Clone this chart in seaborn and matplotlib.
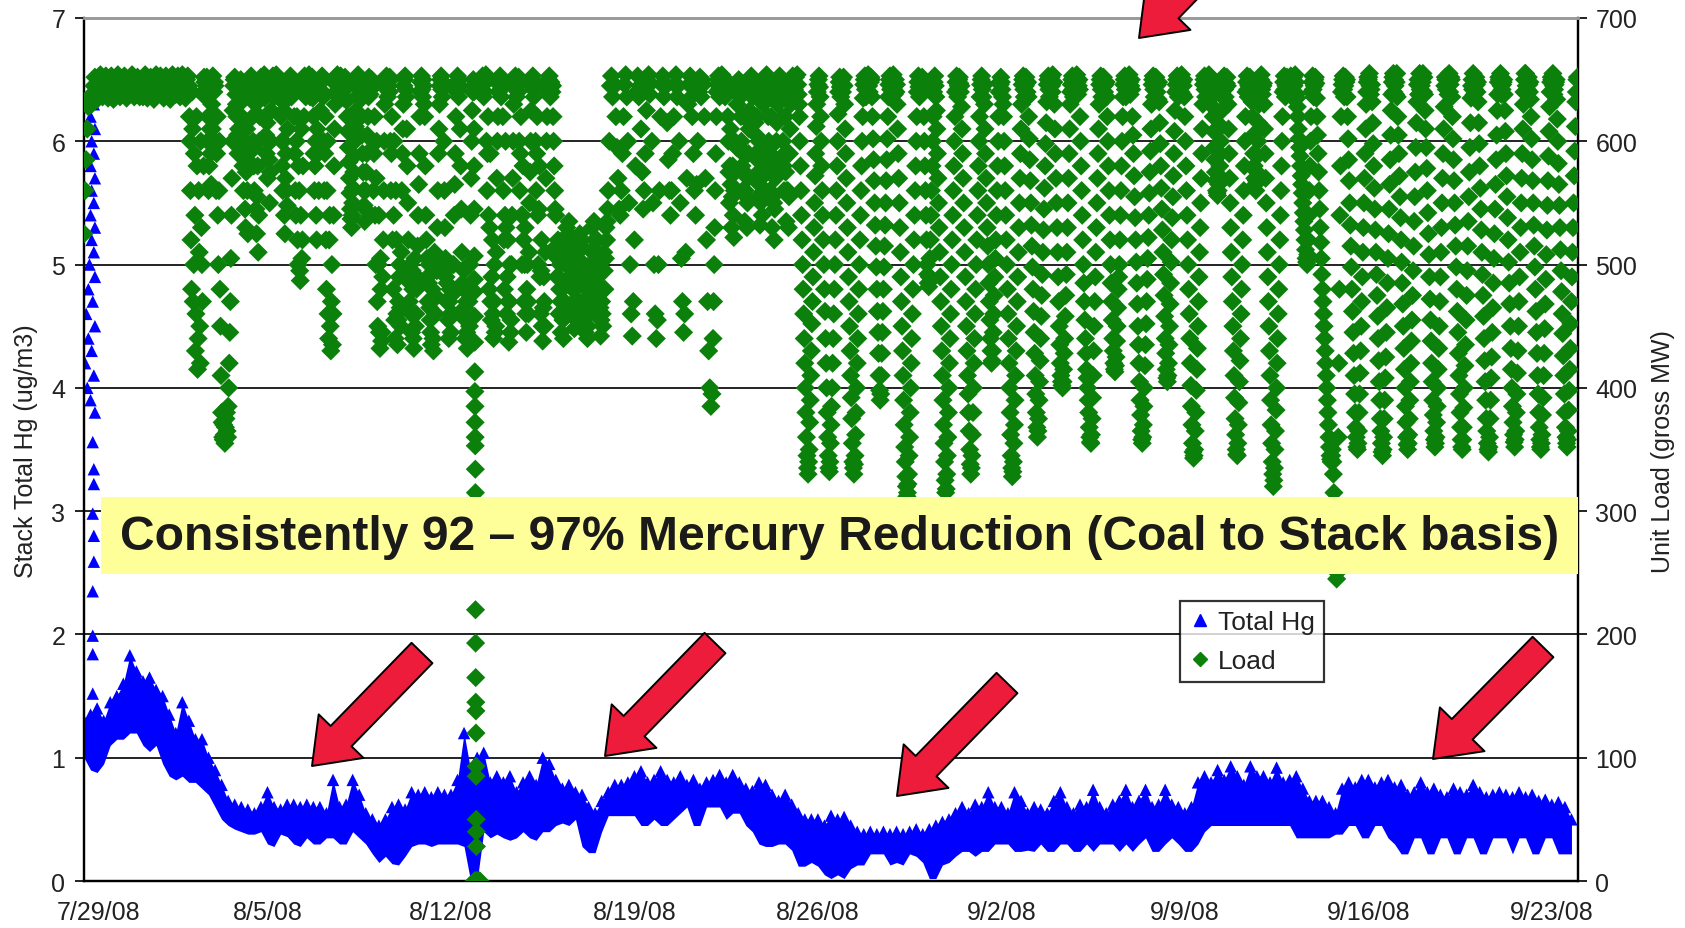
import numpy as np
import pandas as pd
import matplotlib
matplotlib.use("Agg")
import matplotlib.pyplot as plt
import matplotlib.dates as mdates
from matplotlib.lines import Line2D
from matplotlib.patches import FancyArrowPatch, Rectangle
from matplotlib.transforms import ScaledTranslation
import seaborn as sns

# --- data ----------------------------------------------------------------
start = pd.Timestamp("2008-07-29")
n_days = 57
tick_dates = pd.date_range(start, periods=9, freq="7D")

# Total Hg envelope, 6-hourly (4 per day): upper and lower edge of the band
hg_high = [
    1.30, 1.35, 1.40, 1.30,  1.45, 1.50, 1.60, 1.83,
    1.70, 1.62, 1.65, 1.55,  1.50, 1.35, 1.20, 1.45,
    1.30, 1.15, 1.15, 1.00,  0.90, 0.78, 0.65, 0.62,
    0.60, 0.58, 0.55, 0.60,  0.72, 0.60, 0.58, 0.62,
    0.62, 0.60, 0.62, 0.60,  0.60, 0.55, 0.82, 0.60,
    0.62, 0.82, 0.70, 0.55,  0.50, 0.45, 0.50, 0.60,
    0.62, 0.58, 0.72, 0.70,  0.72, 0.68, 0.72, 0.70,
    0.70, 0.82, 1.20, 0.90,  1.00, 1.04, 0.80, 0.85,
    0.80, 0.85, 0.72, 0.80,  0.85, 0.78, 1.00, 0.95,
    0.82, 0.75, 0.78, 0.72,  0.70, 0.60, 0.55, 0.65,
    0.72, 0.78, 0.78, 0.80,  0.85, 0.89, 0.80, 0.82,
    0.89, 0.82, 0.80, 0.85,  0.78, 0.82, 0.75, 0.80,
    0.82, 0.86, 0.80, 0.86,  0.80, 0.75, 0.73, 0.80,
    0.78, 0.70, 0.65, 0.70,  0.62, 0.55, 0.50, 0.50,
    0.50, 0.45, 0.53, 0.50,  0.52, 0.45, 0.40, 0.38,
    0.40, 0.38, 0.40, 0.38,  0.40, 0.38, 0.40, 0.42,
    0.38, 0.42, 0.45, 0.48,  0.50, 0.55, 0.60, 0.55,
    0.62, 0.60, 0.72, 0.60,  0.60, 0.55, 0.72, 0.65,
    0.55, 0.60, 0.58, 0.55,  0.65, 0.72, 0.60, 0.55,
    0.62, 0.60, 0.74, 0.60,  0.55, 0.62, 0.65, 0.74,
    0.60, 0.65, 0.74, 0.60,  0.62, 0.74, 0.62, 0.60,
    0.55, 0.60, 0.80, 0.85,  0.80, 0.90, 0.82, 0.93,
    0.85, 0.78, 0.93, 0.85,  0.85, 0.80, 0.92, 0.80,
    0.82, 0.85, 0.75, 0.65,  0.65, 0.65, 0.60, 0.55,
    0.75, 0.80, 0.76, 0.82,  0.82, 0.76, 0.80, 0.82,
    0.76, 0.78, 0.70, 0.72,  0.80, 0.72, 0.75, 0.70,
    0.68, 0.75, 0.72, 0.70,  0.78, 0.72, 0.68, 0.70,
    0.72, 0.70, 0.68, 0.72,  0.68, 0.70, 0.65, 0.66,
    0.62, 0.64, 0.60, 0.50,
]
hg_low = [
    1.00, 0.90, 0.88, 0.95,  1.10, 1.15, 1.15, 1.20,
    1.20, 1.10, 1.05, 1.10,  0.95, 0.85, 0.82, 0.85,
    0.80, 0.80, 0.75, 0.70,  0.60, 0.50, 0.45, 0.42,
    0.40, 0.38, 0.38, 0.40,  0.30, 0.28, 0.38, 0.36,
    0.30, 0.28, 0.35, 0.30,  0.30, 0.35, 0.35, 0.30,
    0.30, 0.40, 0.35, 0.30,  0.22, 0.15, 0.20, 0.14,
    0.13, 0.20, 0.28, 0.30,  0.30, 0.28, 0.30, 0.30,
    0.30, 0.30, 0.28, 0.00,  0.00, 0.40, 0.35, 0.38,
    0.35, 0.33, 0.35, 0.40,  0.35, 0.33, 0.40, 0.40,
    0.45, 0.47, 0.45, 0.50,  0.28, 0.23, 0.23, 0.40,
    0.53, 0.53, 0.53, 0.53,  0.53, 0.45, 0.45, 0.50,
    0.45, 0.45, 0.50, 0.55,  0.60, 0.45, 0.45, 0.60,
    0.60, 0.60, 0.50, 0.55,  0.55, 0.45, 0.40, 0.30,
    0.28, 0.28, 0.30, 0.30,  0.25, 0.12, 0.12, 0.15,
    0.12, 0.05, 0.02, 0.05,  0.02, 0.10, 0.13, 0.13,
    0.22, 0.22, 0.22, 0.13,  0.15, 0.13, 0.22, 0.20,
    0.15, 0.02, 0.02, 0.13,  0.15, 0.20, 0.24, 0.24,
    0.20, 0.24, 0.24, 0.30,  0.30, 0.30, 0.24, 0.24,
    0.25, 0.24, 0.30, 0.24,  0.24, 0.30, 0.30, 0.24,
    0.24, 0.30, 0.24, 0.30,  0.30, 0.30, 0.24, 0.30,
    0.24, 0.30, 0.35, 0.24,  0.24, 0.30, 0.35, 0.30,
    0.24, 0.24, 0.30, 0.40,  0.45, 0.45, 0.45, 0.45,
    0.45, 0.45, 0.45, 0.45,  0.45, 0.45, 0.45, 0.45,
    0.45, 0.35, 0.35, 0.35,  0.35, 0.35, 0.35, 0.38,
    0.38, 0.45, 0.45, 0.35,  0.35, 0.45, 0.45, 0.35,
    0.30, 0.22, 0.22, 0.35,  0.35, 0.22, 0.22, 0.35,
    0.35, 0.22, 0.22, 0.35,  0.35, 0.22, 0.22, 0.35,
    0.35, 0.35, 0.22, 0.35,  0.35, 0.22, 0.22, 0.35,
    0.35, 0.22, 0.22, 0.22,
]

# start-up spike on 7/29 (hours after midnight, ug/m3)
hg_start_hour = [9, 6, 10, 7, 9, 6, 10, 7, 9, 6, 10, 7, 9, 5, 10, 4, 8, 2,
                 10, 4, 7, 1, 9, 3, 6, 10, 8, 9, 9, 8, 9, 9, 8, 8, 8, 8]
hg_start_val = [6.3, 6.2, 6.1, 6.0, 5.9, 5.8, 5.7, 5.6, 5.5, 5.4, 5.3, 5.2,
                5.1, 5.0, 4.9, 4.8, 4.7, 4.6, 4.5, 4.4, 4.3, 4.2, 4.1, 4.0,
                3.9, 3.8, 3.56, 3.34, 3.22, 2.98, 2.8, 2.59, 2.35, 1.99,
                1.84, 1.52]

# Unit load, hourly on the hour (MW), one row per day
load_wk1 = [  # 7/29 - 8/4
    [525, 560, 585, 610, 628, 636, 632, 630, 638, 645, 652, 646, 634, 640, 647, 654, 646, 636, 638, 645, 653, 648, 635, 641],
    [646, 653, 650, 634, 645, 639, 646, 654, 650, 636, 647, 642, 646, 653, 650, 635, 649, 643, 638, 646, 654, 650, 636, 646],
    [645, 652, 649, 636, 648, 640, 636, 642, 654, 648, 635, 649, 647, 652, 639, 645, 634, 649, 654, 648, 640, 641, 653, 648],
    [647, 635, 650, 653, 646, 640, 647, 634, 651, 654, 648, 643, 638, 644, 653, 648, 636, 649, 654, 642, 646, 635, 650, 653],
    [645, 600, 520, 640, 470, 590, 430, 620, 415, 560, 450, 600, 500, 640, 652, 636, 645, 600, 560, 645, 590, 630, 653, 640],
    [645, 560, 620, 500, 600, 450, 380, 360, 370, 355, 375, 365, 385, 420, 470, 540, 600, 645, 652, 638, 620, 590, 630, 645],
    [645, 600, 560, 640, 530, 610, 525, 645, 636, 653, 645, 600, 560, 630, 525, 580, 540, 620, 652, 636, 645, 654, 620, 590],
]
load_wk2 = [  # 8/5 - 8/11
    [570, 640, 550, 600, 645, 653, 636, 645, 654, 640, 648, 635, 645, 600, 560, 625, 525, 590, 548, 635, 646, 653, 636, 645],
    [645, 590, 540, 620, 500, 560, 487, 610, 520, 640, 653, 636, 650, 640, 654, 636, 648, 652, 620, 560, 600, 520, 640, 560],
    [600, 640, 653, 636, 560, 620, 480, 600, 440, 540, 430, 500, 460, 580, 630, 646, 654, 636, 647, 653, 640, 648, 635, 652],
    [646, 620, 595, 570, 545, 530, 550, 575, 600, 625, 646, 654, 636, 647, 620, 590, 560, 535, 560, 590, 620, 652, 638, 646],
    [645, 560, 620, 500, 600, 450, 540, 432, 480, 445, 520, 600, 645, 653, 636, 645, 652, 560, 620, 480, 600, 440, 520, 435],
    [470, 500, 450, 560, 610, 645, 653, 636, 580, 520, 470, 500, 445, 480, 432, 505, 460, 490, 540, 590, 640, 653, 636, 645],
    [620, 540, 505, 470, 500, 455, 435, 480, 430, 510, 460, 495, 560, 610, 645, 653, 636, 645, 560, 505, 470, 500, 440, 480],
]
load_wk3 = [  # 8/12 - 8/18
    [445, 500, 460, 540, 590, 640, 653, 636, 645, 580, 510, 460, 495, 440, 470, 432, 500, 450, 540, 600, 640, 645, 0, 0],
    [0, 0, 0, 640, 646, 653, 636, 647, 654, 560, 620, 480, 590, 455, 520, 440, 500, 450, 570, 620, 646, 653, 636, 645],
    [560, 480, 600, 460, 520, 437, 500, 455, 540, 600, 645, 653, 636, 645, 652, 560, 620, 500, 580, 470, 530, 445, 500, 460],
    [550, 600, 645, 653, 636, 645, 560, 620, 500, 580, 460, 520, 438, 490, 450, 570, 620, 646, 653, 636, 646, 645, 600, 560],
    [540, 490, 520, 460, 500, 445, 480, 440, 470, 500, 530, 510, 535, 490, 520, 460, 500, 448, 480, 455, 510, 470, 525, 500],
    [520, 470, 500, 445, 480, 440, 460, 500, 470, 530, 490, 535, 510, 480, 520, 460, 495, 442, 470, 450, 510, 480, 530, 535],
    [560, 600, 645, 653, 636, 647, 645, 620, 595, 570, 545, 540, 560, 590, 620, 646, 654, 636, 600, 550, 500, 460, 442, 470],
]
load_wk4 = [  # 8/19 - 8/25
    [520, 580, 640, 653, 636, 645, 610, 575, 545, 560, 590, 625, 646, 654, 638, 647, 600, 550, 500, 460, 440, 455, 500, 560],
    [620, 646, 653, 636, 647, 645, 615, 585, 560, 540, 560, 590, 620, 646, 654, 636, 645, 600, 550, 505, 470, 445, 460, 510],
    [570, 630, 646, 653, 636, 620, 590, 560, 540, 565, 600, 640, 652, 636, 650, 646, 620, 570, 520, 470, 430, 400, 385, 395],
    [440, 500, 560, 620, 646, 653, 636, 647, 654, 640, 648, 636, 647, 645, 600, 550, 610, 530, 580, 522, 600, 560, 630, 646],
    [648, 636, 600, 560, 620, 535, 590, 530, 570, 610, 640, 653, 636, 646, 645, 590, 620, 555, 600, 532, 570, 540, 630, 646],
    [648, 654, 636, 600, 560, 620, 530, 580, 520, 570, 600, 630, 646, 653, 636, 645, 600, 560, 620, 535, 590, 530, 590, 630],
    [646, 653, 636, 647, 645, 654, 638, 620, 580, 540, 500, 460, 420, 380, 345, 330, 350, 390, 430, 470, 510, 550, 590, 630],
]
load_wk5 = [  # 8/26 - 9/1
    [646, 653, 636, 600, 560, 520, 480, 440, 400, 360, 335, 340, 370, 400, 440, 480, 520, 560, 600, 640, 652, 636, 650, 646],
    [645, 610, 570, 530, 490, 450, 410, 375, 340, 330, 345, 380, 420, 460, 500, 540, 580, 620, 646, 653, 636, 647, 654, 640],
    [648, 650, 620, 585, 550, 515, 480, 445, 410, 390, 410, 445, 480, 515, 550, 585, 620, 646, 653, 636, 645, 654, 638, 650],
    [646, 610, 570, 530, 490, 450, 410, 370, 340, 320, 315, 330, 360, 400, 440, 480, 520, 560, 600, 640, 653, 636, 650, 647],
    [645, 620, 580, 540, 500, 485, 490, 520, 560, 600, 640, 653, 636, 610, 570, 530, 490, 450, 410, 370, 340, 315, 330, 360],
    [400, 440, 480, 520, 560, 600, 640, 653, 636, 650, 647, 645, 610, 570, 530, 490, 450, 410, 380, 350, 330, 345, 380, 420],
    [460, 500, 540, 580, 620, 646, 653, 636, 647, 610, 570, 530, 500, 470, 440, 420, 430, 460, 490, 520, 560, 600, 640, 646],
]
load_wk6 = [  # 9/2 - 9/8
    [648, 636, 620, 580, 540, 500, 460, 420, 380, 345, 328, 340, 370, 410, 450, 490, 530, 570, 610, 646, 653, 636, 645, 647],
    [648, 620, 585, 550, 515, 480, 445, 410, 380, 360, 375, 405, 440, 475, 510, 545, 580, 615, 646, 653, 636, 647, 645, 654],
    [648, 610, 570, 530, 490, 450, 420, 405, 400, 415, 440, 475, 510, 550, 590, 630, 646, 653, 636, 647, 645, 654, 638, 650],
    [620, 580, 540, 500, 470, 440, 415, 400, 380, 360, 355, 375, 410, 450, 490, 530, 570, 610, 646, 653, 636, 647, 645, 646],
    [648, 620, 580, 540, 500, 470, 440, 420, 413, 425, 450, 480, 500, 540, 580, 620, 646, 653, 636, 647, 645, 654, 638, 650],
    [620, 590, 555, 520, 485, 450, 420, 390, 365, 355, 370, 400, 435, 470, 505, 540, 575, 610, 646, 653, 636, 647, 645, 646],
    [648, 615, 580, 545, 510, 475, 440, 415, 405, 420, 450, 485, 520, 555, 590, 625, 646, 653, 636, 647, 645, 654, 638, 650],
]
load_wk7 = [  # 9/9 - 9/15
    [620, 580, 540, 500, 460, 420, 385, 355, 343, 350, 380, 415, 450, 490, 530, 570, 610, 646, 653, 636, 647, 645, 654, 648],
    [650, 636, 620, 595, 575, 560, 556, 565, 580, 600, 625, 646, 653, 636, 647, 645, 610, 570, 530, 490, 450, 410, 375, 350],
    [345, 370, 405, 440, 480, 520, 560, 600, 640, 653, 636, 650, 647, 645, 620, 590, 570, 560, 575, 600, 630, 646, 654, 638],
    [647, 610, 570, 530, 490, 450, 410, 370, 340, 320, 335, 365, 400, 440, 480, 520, 560, 600, 640, 653, 636, 650, 647, 645],
    [646, 653, 636, 647, 645, 654, 638, 628, 610, 595, 580, 565, 550, 535, 520, 505, 500, 520, 560, 600, 640, 653, 636, 650],
    [647, 620, 590, 560, 530, 505, 480, 460, 440, 420, 400, 380, 360, 345, 340, 350, 330, 300, 270, 245, 300, 420, 540, 620],
    [646, 653, 636, 652, 650, 620, 585, 550, 515, 480, 445, 410, 380, 360, 350, 365, 395, 430, 470, 510, 550, 590, 630, 648],
]
load_wk8 = [  # 9/16 - 9/22
    [650, 655, 638, 646, 615, 580, 545, 510, 475, 440, 405, 375, 355, 345, 360, 390, 425, 465, 505, 545, 585, 625, 648, 655],
    [650, 638, 655, 620, 590, 555, 520, 485, 450, 415, 385, 360, 350, 362, 390, 420, 455, 495, 535, 575, 615, 646, 638, 655],
    [650, 638, 655, 652, 625, 595, 560, 525, 490, 455, 420, 390, 365, 352, 360, 385, 415, 450, 490, 530, 570, 610, 645, 650],
    [652, 638, 655, 646, 650, 620, 585, 550, 515, 480, 445, 410, 380, 358, 350, 368, 400, 435, 475, 515, 555, 595, 635, 650],
    [655, 638, 650, 646, 648, 615, 580, 545, 510, 475, 440, 405, 375, 355, 348, 360, 390, 425, 465, 505, 545, 585, 625, 648],
    [650, 655, 638, 646, 650, 625, 590, 555, 520, 485, 450, 415, 385, 362, 352, 365, 395, 430, 470, 510, 550, 590, 630, 650],
    [655, 638, 648, 646, 648, 620, 585, 550, 515, 480, 445, 410, 380, 358, 350, 362, 392, 428, 468, 508, 548, 588, 628, 648],
]
load_wk9 = [  # 9/23
    [650, 655, 638, 646, 650, 618, 582, 548, 512, 478, 444, 410, 380, 360, 352, 365, 398, 432, 470, 510, 550, 592, 632, 650],
]

# extra half-past-the-hour readings, one row per day
load_half_aug02 = [  # 8/2 - 8/8
    [620, 560, 480, 610, 500, 540, 460, 580, 440, 510, 420, 530, 470, 580, 648, 640, 652, 620, 580, 610, 565, 610, 645, 648],
    [600, 590, 540, 560, 480, 410, 372, 358, 362, 368, 380, 360, 400, 445, 505, 570, 625, 650, 645, 630, 605, 610, 640, 650],
    [620, 580, 600, 545, 575, 560, 590, 650, 642, 648, 620, 580, 595, 545, 555, 510, 600, 640, 645, 650, 640, 635, 605, 615],
    [600, 585, 575, 625, 650, 640, 648, 652, 645, 636, 650, 642, 620, 580, 600, 540, 570, 560, 610, 648, 640, 650, 642, 650],
    [620, 560, 600, 520, 580, 495, 540, 505, 580, 620, 648, 645, 638, 652, 645, 650, 640, 635, 590, 580, 540, 610, 590, 600],
    [625, 648, 640, 600, 590, 520, 560, 460, 520, 450, 470, 435, 540, 610, 640, 650, 645, 642, 652, 638, 645, 650, 642, 648],
    [633, 608, 583, 558, 537, 540, 562, 588, 612, 636, 650, 645, 642, 634, 605, 575, 548, 545, 575, 605, 636, 645, 642, 650],
]
load_half_aug09 = [  # 8/9 - 8/15
    [600, 590, 540, 570, 470, 500, 445, 505, 438, 490, 560, 630, 650, 642, 648, 640, 600, 590, 520, 540, 455, 560, 460, 455],
    [490, 465, 510, 590, 630, 650, 642, 610, 550, 495, 485, 460, 495, 440, 490, 450, 480, 515, 565, 620, 648, 642, 650, 630],
    [580, 520, 490, 485, 465, 445, 470, 440, 495, 475, 505, 530, 590, 630, 650, 642, 648, 600, 530, 490, 485, 455, 470, 460],
    [475, 480, 500, 565, 620, 648, 642, 650, 610, 545, 485, 480, 465, 455, 445, 480, 470, 500, 570, 625, 650, 0, 0, 0],
    [0, 0, 0, 650, 642, 648, 640, 652, 600, 590, 540, 530, 470, 490, 460, 470, 445, 510, 600, 640, 650, 642, 648, 620],
    [520, 540, 530, 490, 470, 470, 445, 500, 570, 630, 650, 642, 648, 640, 600, 590, 540, 540, 520, 500, 460, 480, 470, 510],
    [575, 625, 650, 642, 648, 600, 590, 540, 545, 490, 495, 450, 465, 470, 510, 600, 640, 650, 642, 648, 640, 620, 580, 545],
]
load_half_aug16 = [  # 8/16 - 8/17
    [515, 505, 490, 480, 470, 462, 455, 458, 485, 515, 520, 525, 510, 505, 490, 480, 470, 465, 468, 485, 490, 500, 512, 515],
    [495, 485, 470, 462, 458, 450, 480, 485, 500, 510, 512, 520, 495, 500, 490, 478, 465, 455, 460, 480, 495, 505, 520, 545],
]
load_half_aug22 = [  # 8/22 - 8/24
    [470, 530, 590, 640, 650, 642, 645, 650, 638, 652, 642, 650, 640, 620, 575, 580, 565, 555, 540, 560, 575, 595, 640, 650],
    [642, 620, 580, 590, 575, 560, 555, 550, 590, 625, 648, 642, 650, 640, 615, 605, 585, 575, 565, 550, 555, 590, 640, 650],
    [650, 645, 620, 580, 590, 575, 555, 550, 545, 585, 615, 640, 650, 642, 648, 620, 580, 590, 575, 560, 560, 555, 610, 640],
]
load_half_aug25 = [  # 8/25 - 8/31
    [650, 640, 642, 652, 638, 646, 630, 600, 560, 520, 480, 440, 400, 360, 335, 340, 372, 410, 452, 490, 530, 572, 612, 640],
    [650, 644, 620, 580, 540, 500, 462, 420, 380, 345, 332, 355, 385, 420, 460, 500, 540, 580, 622, 648, 644, 645, 640, 652],
    [630, 590, 550, 510, 470, 430, 392, 355, 335, 338, 362, 400, 440, 480, 520, 560, 600, 635, 650, 642, 645, 652, 645, 648],
    [652, 636, 602, 568, 532, 498, 462, 428, 398, 395, 428, 462, 498, 532, 568, 602, 636, 650, 642, 648, 650, 642, 646, 640],
    [630, 590, 550, 510, 470, 430, 390, 352, 328, 312, 322, 345, 380, 420, 460, 500, 540, 580, 620, 648, 644, 645, 640, 652],
    [640, 600, 560, 520, 492, 482, 505, 540, 580, 620, 648, 645, 625, 590, 550, 510, 470, 430, 390, 355, 325, 318, 345, 380],
    [420, 460, 500, 540, 580, 620, 648, 642, 645, 652, 640, 628, 590, 550, 510, 470, 430, 395, 365, 338, 335, 362, 400, 440],
]
load_half_sep01 = [  # 9/1 - 9/7
    [480, 520, 560, 600, 636, 650, 642, 645, 630, 590, 550, 515, 485, 455, 430, 422, 445, 475, 505, 540, 580, 620, 648, 652],
    [642, 630, 600, 560, 520, 480, 440, 400, 362, 335, 332, 355, 390, 430, 470, 510, 550, 590, 630, 650, 642, 648, 652, 640],
    [636, 602, 568, 532, 498, 462, 428, 395, 368, 365, 390, 422, 458, 492, 528, 562, 598, 632, 650, 642, 645, 652, 640, 648],
    [630, 590, 550, 510, 470, 435, 410, 402, 405, 428, 458, 492, 530, 570, 610, 640, 650, 642, 645, 652, 640, 648, 645, 642],
    [600, 560, 520, 485, 455, 428, 408, 390, 368, 356, 362, 392, 430, 470, 510, 550, 590, 630, 650, 642, 645, 652, 640, 648],
    [636, 600, 560, 520, 485, 455, 430, 415, 418, 438, 465, 490, 520, 560, 600, 636, 650, 642, 645, 652, 640, 648, 645, 642],
    [605, 572, 538, 502, 468, 435, 405, 378, 358, 360, 385, 418, 452, 488, 522, 558, 592, 630, 650, 642, 645, 652, 640, 634],
]
load_half_sep08 = [  # 9/8 - 9/14
    [632, 598, 562, 528, 492, 458, 428, 408, 410, 435, 468, 502, 538, 572, 608, 640, 650, 642, 645, 652, 640, 648, 645, 636],
    [600, 560, 520, 480, 440, 402, 370, 348, 345, 365, 398, 432, 470, 510, 550, 590, 630, 650, 642, 645, 652, 640, 648, 652],
    [642, 628, 608, 585, 568, 558, 560, 572, 590, 612, 636, 650, 642, 645, 652, 630, 590, 550, 510, 470, 430, 392, 362, 346],
    [355, 388, 422, 460, 500, 540, 580, 620, 648, 642, 645, 652, 640, 632, 605, 580, 565, 568, 588, 615, 640, 650, 642, 645],
    [630, 590, 550, 510, 470, 430, 390, 355, 330, 325, 350, 382, 420, 460, 500, 540, 580, 620, 648, 642, 645, 652, 640, 648],
    [650, 642, 645, 652, 640, 648, 635, 620, 602, 588, 572, 558, 542, 528, 512, 502, 508, 540, 580, 620, 648, 642, 645, 652],
    [635, 605, 575, 545, 518, 492, 470, 450, 430, 410, 390, 370, 352, 342, 345, 340, 315, 285, 258, 250, 360, 480, 580, 640],
]
load_half_sep15 = [  # 9/15 - 9/21
    [650, 642, 645, 648, 636, 602, 568, 532, 498, 462, 428, 395, 368, 352, 355, 380, 412, 450, 490, 530, 570, 610, 640, 652],
    [652, 645, 642, 632, 598, 562, 528, 492, 458, 422, 390, 365, 348, 350, 375, 408, 445, 485, 525, 565, 605, 638, 652, 640],
    [645, 648, 636, 605, 572, 538, 502, 468, 432, 400, 372, 354, 355, 375, 405, 438, 475, 515, 555, 595, 632, 650, 645, 642],
    [645, 648, 640, 638, 610, 578, 542, 508, 472, 438, 405, 378, 358, 355, 372, 400, 432, 470, 510, 550, 590, 628, 652, 642],
    [645, 648, 640, 652, 636, 602, 568, 532, 498, 462, 428, 395, 368, 352, 358, 384, 418, 455, 495, 535, 575, 615, 645, 642],
    [645, 642, 652, 640, 632, 598, 562, 528, 492, 458, 422, 390, 365, 350, 352, 375, 408, 445, 485, 525, 565, 605, 638, 652],
    [652, 645, 642, 648, 638, 608, 572, 538, 502, 468, 432, 400, 372, 356, 358, 380, 412, 450, 490, 530, 570, 610, 640, 655],
]
load_half_sep22 = [  # 9/22 - 9/23
    [645, 642, 652, 640, 634, 602, 568, 532, 498, 462, 428, 395, 368, 352, 355, 378, 410, 448, 488, 528, 568, 608, 640, 652],
    [652, 645, 642, 648, 634, 600, 565, 530, 495, 460, 426, 395, 368, 355, 358, 382, 415, 452, 490, 530, 572, 612, 640, 652],
]
half_sets = [("2008-08-02", load_half_aug02), ("2008-08-09", load_half_aug09),
             ("2008-08-16", load_half_aug16), ("2008-08-22", load_half_aug22),
             ("2008-08-25", load_half_aug25), ("2008-09-01", load_half_sep01),
             ("2008-09-08", load_half_sep08), ("2008-09-15", load_half_sep15),
             ("2008-09-22", load_half_sep22)]

# unit trip on the evening of 8/12 (5-minute readings)
trip_start = pd.Timestamp("2008-08-12 21:05")
load_trip = [640, 610, 580, 545, 507, 488, 478, 458, 437, 413, 397, 385, 372,
             360, 353, 334, 315, 220, 193, 165, 145, 138, 120, 93, 85, 50,
             40, 28, 0]

banner = "Consistently 92 \u2013 97% Mercury Reduction (Coal to Stack basis)"

# --- assemble series ----------------------------------------------------
hg_t = start + pd.to_timedelta(np.arange(len(hg_high)) * 6, unit="h")
hg_start_t = start + pd.to_timedelta(hg_start_hour, unit="h")

load_rows = (load_wk1 + load_wk2 + load_wk3 + load_wk4 + load_wk5
             + load_wk6 + load_wk7 + load_wk8 + load_wk9)
load_t, load_v = [], []
for d, row in enumerate(load_rows):
    for h, v in enumerate(row):
        load_t.append(start + pd.Timedelta(days=d, hours=h))
        load_v.append(v)
for first_day, rows in half_sets:
    day0 = pd.Timestamp(first_day)
    for d, row in enumerate(rows):
        for h, v in enumerate(row):
            load_t.append(day0 + pd.Timedelta(days=d, hours=h, minutes=30))
            load_v.append(v)
for i, v in enumerate(load_trip):
    load_t.append(trip_start + pd.Timedelta(minutes=5 * i))
    load_v.append(v)
load_df = pd.DataFrame({"time": load_t, "load": load_v}).sort_values("time")

BLUE = "#0000ff"
GREEN = "#0b800b"
RED = "#ed1c3a"
INK = "#222222"

# --- plot -----------------------------------------------------------------
sns.set_style("white")
plt.rcParams["font.family"] = ["Liberation Sans", "DejaVu Sans"]

W, H = 1685, 929
fig = plt.figure(figsize=(W / 100, H / 100), dpi=100)
ax = fig.add_axes([84 / W, 1 - 882 / H, (1578 - 84) / W, (882 - 19) / H])
ax2 = ax.twinx()

for v in range(1, 7):
    ax.axhline(v, color=INK, lw=1.4, zorder=0.5)

ax.fill_between(hg_t, hg_low, hg_high, color=BLUE, lw=0, zorder=2)
sns.scatterplot(x=hg_t, y=hg_high, marker="^", s=80, color=BLUE,
                edgecolor="none", ax=ax, zorder=3)
sns.scatterplot(x=hg_start_t, y=hg_start_val, marker="^", s=80, color=BLUE,
                edgecolor="none", ax=ax, zorder=3)
sns.scatterplot(data=load_df, x="time", y="load", marker="D", s=95,
                color=GREEN, edgecolor="none", ax=ax2, zorder=3)

ax.set_xlim(start, start + pd.Timedelta(days=n_days))
ax.set_ylim(0, 7)
ax2.set_ylim(0, 700)
ax.set_yticks(range(0, 8))
ax2.set_yticks(range(0, 701, 100))
ax.set_xticks(tick_dates)
ax.xaxis.set_major_formatter(mdates.DateFormatter("%-m/%-d/%y"))
ax.set_xlabel("")
ax.set_ylabel("")
ax2.set_ylabel("")

for a in (ax, ax2):
    for side in ("left", "right", "bottom"):
        a.spines[side].set_color("black")
        a.spines[side].set_linewidth(1.6)
    a.spines["top"].set_color("#9a9a9a")
    a.spines["top"].set_linewidth(2)

ax.tick_params(axis="y", direction="out", length=6.5, width=1.4,
               labelsize=18, pad=7, colors=INK)
ax2.tick_params(axis="y", direction="out", length=6.5, width=1.4,
                labelsize=18, pad=6, colors=INK)
ax.tick_params(axis="x", direction="inout", length=12, width=1.4,
               labelsize=18, pad=8, colors=INK)
# first date label sits a little to the right of its tick
first = ax.get_xticklabels()[0]
first.set_transform(first.get_transform()
                    + ScaledTranslation(0.15, 0, fig.dpi_scale_trans))

fig.text(26 / W, 1 - 451 / H, "Stack Total Hg (ug/m3)", rotation=90,
         ha="center", va="center", fontsize=18, color=INK)
fig.text(1663 / W, 1 - 452 / H, "Unit Load (gross MW)", rotation=90,
         ha="center", va="center", fontsize=18, color=INK)

handles = [Line2D([], [], marker="^", color=BLUE, ls="none", markersize=8.5),
           Line2D([], [], marker="D", color=GREEN, ls="none", markersize=7)]
leg = ax2.legend(handles, ["Total Hg", "Load"], loc="upper left",
                 bbox_to_anchor=(1180 / W, 1 - 602 / H),
                 bbox_transform=fig.transFigure, frameon=True, fancybox=False,
                 edgecolor="black", fontsize=19, handlelength=0.8,
                 handletextpad=0.3, borderpad=0.35, labelspacing=0.55,
                 borderaxespad=0)
leg.get_frame().set_linewidth(1.6)
for t in leg.get_texts():
    t.set_color(INK)

# banner
fig.add_artist(Rectangle((101 / W, 1 - 575 / H), (1578 - 101) / W, 77 / H,
                         transform=fig.transFigure, facecolor="#ffff99",
                         edgecolor="none", zorder=5))
fig.text(840 / W, 1 - 537 / H, banner, ha="center", va="center",
         fontsize=34.6, fontweight="bold", color="#1a1a1a", zorder=6)

# red call-out arrows (tail, tip) in figure pixels
arrows_px = [((422, 654), (312, 767)), ((715, 644), (605, 757)),
             ((1007, 684), (897, 797)), ((1543, 648), (1433, 760)),
             ((1249, -74), (1139, 39))]
for (tx, ty), (hx, hy) in arrows_px:
    arr = FancyArrowPatch((tx / W, 1 - ty / H), (hx / W, 1 - hy / H),
                          transform=fig.transFigure,
                          arrowstyle="simple,head_length=30,head_width=45,tail_width=21",
                          mutation_scale=1, shrinkA=0, shrinkB=0,
                          facecolor=RED, edgecolor="black", lw=1.4, zorder=7)
    fig.add_artist(arr)

fig.savefig("out.png", dpi=100)
